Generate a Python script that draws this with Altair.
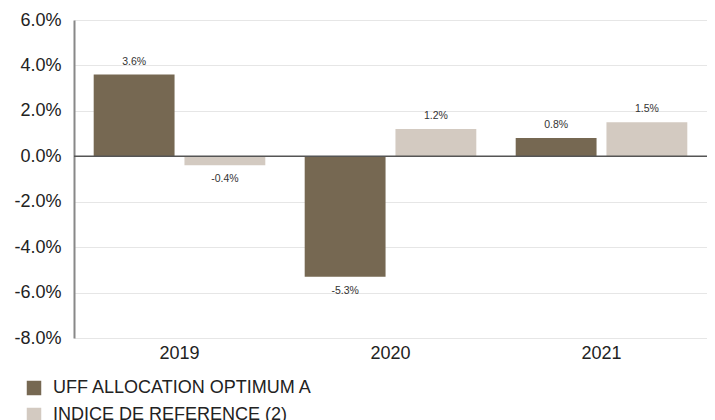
import altair as alt
import pandas as pd

years = ["2019", "2020", "2021"]
series_names = ["UFF ALLOCATION OPTIMUM A", "INDICE DE REFERENCE (2)"]
fund_values = [0.036, -0.053, 0.008]
index_values = [-0.004, 0.012, 0.015]
colors = ["#766852", "#d3cac1"]
y_ticks = [-0.08, -0.06, -0.04, -0.02, 0.0, 0.02, 0.04, 0.06]

rows = []
for i, y in enumerate(years):
    rows.append({"year": y, "series": series_names[0], "value": fund_values[i]})
    rows.append({"year": y, "series": series_names[1], "value": index_values[i]})
df = pd.DataFrame(rows)

FONT = "Liberation Sans"
MINUS = "\u2212"
label_expr = f"replace(format(datum.value, '.1%'), '{MINUS}', '-')"

x_enc = alt.X("year:N", scale=alt.Scale(paddingInner=0, paddingOuter=0),
              axis=alt.Axis(title=None, labelAngle=0, domain=False, ticks=False,
                            labelFontSize=18, labelColor="#222", labelPadding=6,
                            labelFont=FONT, grid=False))
xo_enc = alt.XOffset("series:N", sort=series_names,
                     scale=alt.Scale(paddingInner=0.109, paddingOuter=0.217))
y_enc = alt.Y("value:Q", scale=alt.Scale(domain=[-0.08, 0.06], nice=False),
              axis=alt.Axis(title=None, values=y_ticks, ticks=False,
                            labelExpr=label_expr,
                            domain=True, domainColor="#888", domainWidth=2,
                            gridColor="#e6e6e6", gridWidth=1,
                            labelFontSize=18, labelColor="#222", labelPadding=13,
                            labelFont=FONT))

base = alt.Chart(df).transform_calculate(label=label_expr)

bars = base.mark_bar().encode(
    x=x_enc,
    xOffset=xo_enc,
    y=y_enc,
    color=alt.Color("series:N", sort=series_names,
                    scale=alt.Scale(domain=series_names, range=colors),
                    legend=alt.Legend(title=None, orient="none", legendX=-49, legendY=359,
                                      symbolType="square", symbolSize=210,
                                      symbolStrokeWidth=0, labelFontSize=18,
                                      labelFont=FONT, labelColor="#222", labelLimit=0,
                                      rowPadding=9, labelOffset=10, direction="vertical")),
)

pos_text = base.transform_filter("datum.value >= 0").mark_text(
    baseline="bottom", dy=-8, fontSize=10.5, font=FONT, color="#333"
).encode(x=x_enc, xOffset=xo_enc, y=y_enc, text=alt.Text("label:N"))

neg_text = base.transform_filter("datum.value < 0").mark_text(
    baseline="top", dy=9, fontSize=10.5, font=FONT, color="#333"
).encode(x=x_enc, xOffset=xo_enc, y=y_enc, text=alt.Text("label:N"))

zero = alt.Chart(pd.DataFrame({"z": [0.0]})).mark_rule(color="#555", strokeWidth=1.5).encode(
    y=alt.Y("z:Q")
)

chart = alt.layer(bars, zero, pos_text, neg_text).properties(
    width=633, height=318,
    autosize=alt.AutoSizeParams(type="none"),
    padding={"left": 66, "top": 12, "right": 0, "bottom": 90}
).configure_view(stroke=None)

chart.save("out.html", embed_options={"renderer": "svg", "actions": False})
